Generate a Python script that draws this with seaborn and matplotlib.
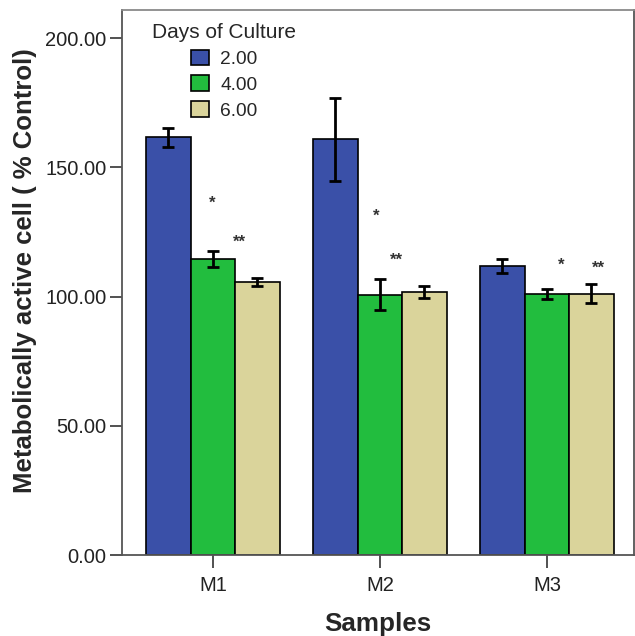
import matplotlib
matplotlib.use("Agg")
import numpy as np
import pandas as pd
import matplotlib.pyplot as plt
import seaborn as sns

# valores
muestras = ["M1", "M2", "M3"]
dias = ["2.00", "4.00", "6.00"]
media_2 = [161.7, 160.9, 111.8]
media_4 = [114.6, 100.8, 101.1]
media_6 = [105.7, 101.7, 101.2]
err_2 = [3.7, 16.0, 2.7]
err_4 = [3.0, 6.0, 2.0]
err_6 = [1.7, 2.4, 3.6]

# asteriscos de significancia (muestra, texto, altura)
estrellas_muestra = [0, 0, 1, 1, 2, 2]
estrellas = ["*", "**", "*", "**", "*", "**"]
estrellas_y = [136.0, 121.0, 131.0, 114.0, 112.0, 111.0]
estrellas_dx = [-0.006, 0.16, -0.024, 0.10, 0.084, 0.31]

medias = [media_2, media_4, media_6]
errores = [err_2, err_4, err_6]

filas = []
for d, vals in zip(dias, medias):
    for m, v in zip(muestras, vals):
        filas.append({"Samples": m, "Dias": d, "Valor": v})
datos = pd.DataFrame(filas)

sns.set_style("white")
plt.rcParams["font.family"] = ["Liberation Sans", "DejaVu Sans"]

fig = plt.figure(figsize=(6.35, 6.36), dpi=100)
ax = fig.add_axes([0.192, 0.127, 0.806, 0.857])

colores = ["#3A50A8", "#22BD3E", "#DAD49B"]
sns.barplot(data=datos, x="Samples", y="Valor", hue="Dias", order=muestras,
            hue_order=dias, palette=colores, errorbar=None, width=0.8,
            edgecolor="black", linewidth=1.2, saturation=1, ax=ax)

# barras de error
for cont, errs in zip(ax.containers, errores):
    for barra, e in zip(cont, errs):
        cx = barra.get_x() + barra.get_width() / 2
        ax.errorbar(cx, barra.get_height(), yerr=e, color="black",
                    elinewidth=2, capsize=4.5, capthick=2, zorder=5)

# asteriscos
for i, s, y, dx in zip(estrellas_muestra, estrellas, estrellas_y, estrellas_dx):
    ax.text(i + dx, y, s, ha="center", va="center", fontsize=12,
            fontweight="bold", color="#333333")

ax.set_ylim(0, 210.8)
ax.set_xlim(-0.545, 2.52)
ax.set_yticks([0, 50, 100, 150, 200])
ax.set_yticklabels([f"{v:.2f}" for v in [0, 50, 100, 150, 200]])
ax.tick_params(axis="both", direction="out", length=9, width=1.2,
               labelsize=14.5, colors="#333333", labelcolor="#222222", left=True, bottom=True)
ax.tick_params(axis="y", pad=2)
ax.tick_params(axis="x", pad=6)

for lado in ["left", "bottom", "right", "top"]:
    ax.spines[lado].set_visible(True)
    ax.spines[lado].set_color("#555555")
    ax.spines[lado].set_linewidth(1.3)
ax.spines["top"].set_color("#8a8a8a")

ax.set_ylabel("Metabolically active cell ( % Control)", fontsize=18.5, fontweight="bold")
ax.set_xlabel("Samples", fontsize=18.7, fontweight="bold")
ax.yaxis.set_label_coords(-0.165, 0.523)
ax.xaxis.set_label_coords(0.5, -0.104)

ley = ax.legend(title="Days of Culture", frameon=False, loc="upper center",
                bbox_to_anchor=(0.20, 0.99), fontsize=13.8, title_fontsize=15,
                handlelength=0.9, handleheight=0.9, labelspacing=0.38,
                handletextpad=0.6, borderaxespad=0)
for h in ley.legend_handles:
    h.set_edgecolor("black")
    h.set_linewidth(1.2)

plt.savefig("out.png", dpi=100)
